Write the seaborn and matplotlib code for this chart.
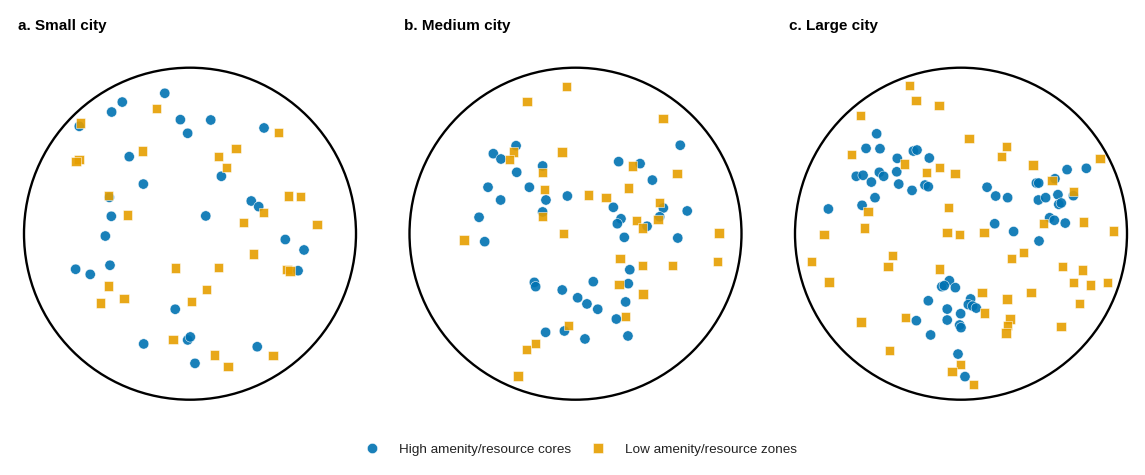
import numpy as np
import pandas as pd
import matplotlib
matplotlib.use("Agg")
import matplotlib.pyplot as plt
from matplotlib.patches import Circle
import seaborn as sns

# ---------------- data (unit-circle city coordinates) ----------------
GROUPS = ["High amenity/resource cores", "Low amenity/resource zones"]
PANEL_TITLES = ["a. Small city", "b. Medium city", "c. Large city"]

# a. Small city
a_core_x = [-0.152, -0.408, -0.472, -0.058, 0.125, -0.014, 0.446, -0.667, -0.366, 0.189,
            -0.281, -0.486, -0.474, 0.095, 0.369, 0.414, -0.510, 0.574, 0.687, -0.689,
            -0.601, -0.482, 0.651, -0.089, -0.279, -0.014, 0.002, 0.405, 0.030]
a_core_y = [0.846, 0.793, 0.733, 0.687, 0.685, 0.605, 0.637, 0.647, 0.464, 0.346,
            0.299, 0.219, 0.105, 0.107, 0.197, 0.163, -0.014, -0.035, -0.098, -0.214,
            -0.245, -0.190, -0.223, -0.455, -0.664, -0.640, -0.622, -0.681, -0.781]
a_zone_x = [-0.661, -0.203, 0.534, 0.277, 0.170, 0.221, -0.287, -0.669, -0.687, -0.492,
            -0.378, 0.595, 0.664, 0.444, 0.323, 0.765, 0.384, -0.089, 0.170, 0.584,
            0.602, -0.492, -0.540, -0.398, 0.098, 0.010, -0.102, 0.146, 0.229, 0.500]
a_zone_y = [0.667, 0.755, 0.608, 0.512, 0.464, 0.398, 0.498, 0.448, 0.434, 0.229,
            0.113, 0.227, 0.225, 0.127, 0.066, 0.054, -0.122, -0.207, -0.205, -0.214,
            -0.225, -0.315, -0.417, -0.392, -0.337, -0.410, -0.639, -0.731, -0.799, -0.733]

# b. Medium city
b_core_x = [-0.358, -0.495, -0.449, -0.354, -0.198, -0.527, -0.278, -0.451, -0.178, -0.049,
            -0.198, -0.581, 0.260, 0.389, 0.463, 0.631, 0.228, 0.274, 0.252, 0.431,
            0.529, 0.507, 0.673, -0.547, 0.294, 0.616, 0.327, -0.248, -0.240, -0.080,
            0.107, 0.318, 0.013, 0.069, 0.134, 0.302, 0.246, -0.180, -0.067, 0.057, 0.316]
b_core_y = [0.530, 0.482, 0.450, 0.370, 0.408, 0.280, 0.280, 0.203, 0.203, 0.227,
            0.131, 0.099, 0.434, 0.422, 0.323, 0.533, 0.159, 0.090, 0.060, 0.045,
            0.155, 0.102, 0.137, -0.048, -0.022, -0.026, -0.217, -0.293, -0.319, -0.339,
            -0.289, -0.301, -0.386, -0.423, -0.455, -0.411, -0.514, -0.594, -0.586, -0.634, -0.616]
b_zone_x = [-0.053, -0.292, 0.527, -0.372, -0.396, -0.081, -0.198, -0.188, 0.080, 0.184,
            0.320, 0.342, 0.611, 0.507, 0.497, 0.366, 0.402, -0.198, -0.073, -0.672,
            0.864, 0.268, 0.405, 0.586, 0.857, 0.262, 0.407, 0.302, -0.041, -0.242,
            -0.294, -0.346]
b_zone_y = [0.888, 0.798, 0.695, 0.492, 0.446, 0.492, 0.367, 0.267, 0.233, 0.219,
            0.275, 0.408, 0.361, 0.187, 0.087, 0.078, 0.034, 0.102, 0.002, -0.038,
            0.004, -0.148, -0.190, -0.190, -0.166, -0.307, -0.363, -0.498, -0.554, -0.660,
            -0.699, -0.857]

# c. Large city
c_core_x = [-0.508, -0.572, -0.488, -0.287, -0.265, -0.384, -0.191, -0.631, -0.590, -0.492,
            -0.466, -0.387, -0.540, -0.375, -0.295, -0.217, -0.197, -0.518, -0.596, -0.799,
            0.639, 0.755, 0.454, 0.468, 0.566, 0.157, 0.209, 0.281, 0.466, 0.510,
            0.584, 0.677, 0.589, 0.604, 0.534, 0.562, 0.628, 0.203, 0.317, 0.470,
            -0.070, -0.116, -0.101, -0.034, -0.197, 0.058, 0.044, 0.070, 0.092, -0.083,
            -0.002, -0.269, -0.083, -0.008, 0.000, -0.183, -0.018, 0.024]
c_core_y = [0.602, 0.514, 0.512, 0.498, 0.504, 0.454, 0.456, 0.346, 0.352, 0.370,
            0.346, 0.373, 0.311, 0.299, 0.261, 0.293, 0.283, 0.217, 0.171, 0.149,
            0.386, 0.394, 0.305, 0.305, 0.331, 0.280, 0.227, 0.217, 0.203, 0.217,
            0.235, 0.229, 0.177, 0.185, 0.096, 0.081, 0.064, 0.060, 0.013, -0.044,
            -0.283, -0.319, -0.313, -0.325, -0.404, -0.393, -0.427, -0.436, -0.448, -0.454,
            -0.482, -0.524, -0.520, -0.550, -0.566, -0.610, -0.725, -0.861]
c_zone_x = [-0.311, -0.271, -0.133, -0.607, 0.048, -0.661, -0.342, -0.207, -0.131, -0.036,
            -0.560, -0.074, -0.580, -0.825, -0.084, -0.009, 0.273, 0.245, 0.434, 0.837,
            0.548, 0.679, 0.737, 0.917, 0.498, 0.139, -0.902, -0.414, -0.440, -0.131,
            -0.795, -0.602, -0.336, -0.432, -0.004, -0.054, 0.077, 0.375, 0.305, 0.613,
            0.733, 0.677, 0.779, 0.884, 0.127, 0.422, 0.277, 0.713, 0.143, 0.295,
            0.281, 0.271, 0.602]
c_zone_y = [0.892, 0.801, 0.771, 0.713, 0.572, 0.476, 0.420, 0.370, 0.398, 0.361,
            0.133, 0.157, 0.034, -0.006, 0.006, -0.006, 0.527, 0.466, 0.414, 0.454,
            0.322, 0.253, 0.070, 0.016, 0.063, 0.008, -0.166, -0.133, -0.199, -0.213,
            -0.291, -0.532, -0.506, -0.705, -0.786, -0.829, -0.910, -0.112, -0.151, -0.199,
            -0.219, -0.293, -0.309, -0.293, -0.354, -0.353, -0.393, -0.419, -0.478, -0.514,
            -0.554, -0.598, -0.560]

panels = [
    (a_core_x, a_core_y, a_zone_x, a_zone_y),
    (b_core_x, b_core_y, b_zone_x, b_zone_y),
    (c_core_x, c_core_y, c_zone_x, c_zone_y),
]

# ---------------- styling ----------------
sns.set_style("white")
plt.rcParams["font.family"] = ["Liberation Sans", "DejaVu Sans"]
plt.rcParams["text.color"] = "black"

palette = {GROUPS[0]: "#0072B2", GROUPS[1]: "#E69F00"}
markers = {GROUPS[0]: "o", GROUPS[1]: "s"}
sizes = {GROUPS[0]: 55, GROUPS[1]: 44}

W, H = 1145, 475
fig = plt.figure(figsize=(W / 100, H / 100), dpi=100)

R_PX = 166.0
LIM = 1.05
ax_w = 2 * LIM * R_PX
centers_x = [190.0, 575.5, 961.0]
center_y_from_top = 233.7

handles = labels = None
for i, (cx, (xc, yc, xz, yz)) in enumerate(zip(centers_x, panels)):
    left = (cx - LIM * R_PX) / W
    bottom = (H - center_y_from_top - LIM * R_PX) / H
    ax = fig.add_axes([left, bottom, ax_w / W, ax_w / H])
    df = pd.DataFrame({
        "x": list(xc) + list(xz),
        "y": list(yc) + list(yz),
        "group": [GROUPS[0]] * len(xc) + [GROUPS[1]] * len(xz),
    })
    sns.scatterplot(data=df, x="x", y="y", hue="group", style="group", size="group",
                    palette=palette, markers=markers, sizes=sizes,
                    hue_order=GROUPS, style_order=GROUPS, size_order=GROUPS,
                    alpha=0.9, edgecolor="white", linewidth=0.4, ax=ax, legend=(i == 0))
    if i == 0:
        handles, labels = ax.get_legend_handles_labels()
        ax.get_legend().remove()
    ax.add_patch(Circle((0, 0), 1.0, fill=False, edgecolor="black", linewidth=1.7, zorder=5))
    ax.set_xlim(-LIM, LIM)
    ax.set_ylim(-LIM, LIM)
    ax.set_aspect("equal")
    ax.axis("off")
    fig.text((18 + 385.5 * i) / W, 1 - 30 / H, PANEL_TITLES[i], color="black",
             fontsize=11, fontweight="bold", ha="left", va="baseline")

leg = fig.legend(handles, labels, loc="center", bbox_to_anchor=(0.5077, 1 - 449.3 / H),
                 ncol=2, frameon=False, fontsize=9.7, handlelength=1.0,
                 handletextpad=1.5, columnspacing=1.5, markerscale=1.0)
for t in leg.get_texts():
    t.set_color("#222222")

fig.savefig("out.png", dpi=100, facecolor="white")
